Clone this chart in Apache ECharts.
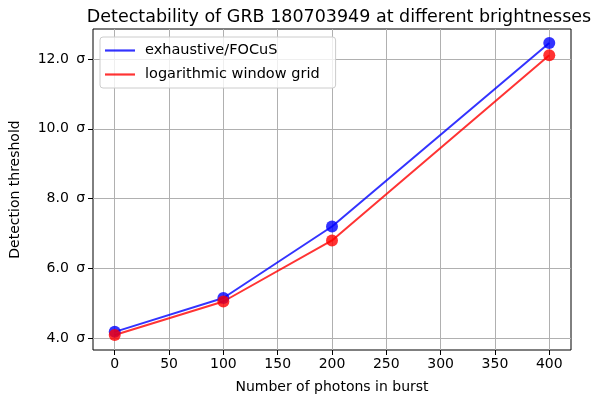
<!DOCTYPE html>
<html><head><meta charset="utf-8">
<script src="https://cdn.jsdelivr.net/npm/echarts@6/dist/echarts.min.js"></script>
<style>html,body{margin:0;padding:0;background:#fff}#c{width:607px;height:404px}</style>
</head><body><div id="c"></div>
<script>
const photons = [0, 100, 200, 400];
const exhaustive = [4.18, 5.15, 7.2, 12.46];
const logGrid = [4.09, 5.05, 6.8, 12.11];
const xTicks = [0, 50, 100, 150, 200, 250, 300, 350, 400];
const yTicks = [4, 6, 8, 10, 12];
const seriesNames = ['exhaustive/FOCuS', 'logarithmic window grid'];

const font = 'DejaVu Sans';
const chart = echarts.init(document.getElementById('c'), null, {renderer: 'canvas'});
const pts = (ys) => photons.map((x, i) => [x, ys[i]]);
function mk(name, ys, lineColor, dotColor) {
  return [{
    name: name, type: 'line', data: pts(ys), symbol: 'none',
    lineStyle: {color: lineColor, width: 2}, itemStyle: {color: lineColor},
    z: 3
  }, {
    name: name + '_pts', type: 'scatter', data: pts(ys), symbolSize: 12,
    itemStyle: {color: dotColor}, z: 4
  }];
}
chart.setOption({
  animation: false,
  title: {
    text: 'Detectability of GRB 180703949 at different brightnesses',
    left: 334, top: 3, textAlign: 'center',
    textStyle: {fontFamily: font, fontSize: 17.5, fontWeight: 'normal', color: '#000'}
  },
  legend: {
    data: seriesNames.map(n => ({name: n, icon: 'path://M0,0H30V2.2H0Z'})),
    orient: 'vertical', left: 100, top: 37,
    itemWidth: 30, itemHeight: 3, itemGap: 9,
    padding: [6, 16, 6, 5],
    backgroundColor: 'rgba(255,255,255,0.8)', borderColor: '#cccccc', borderWidth: 1, borderRadius: 3,
    textStyle: {fontFamily: font, fontSize: 14.5, color: '#000', padding: [0, 0, 0, 5]}
  },
  grid: {left: 92, right: 36, top: 29, bottom: 54, show: true, borderColor: '#000', borderWidth: 1, containLabel: false},
  xAxis: {
    type: 'value', min: -20, max: 420,
    name: 'Number of photons in burst', nameLocation: 'middle', nameGap: 30,
    nameTextStyle: {fontFamily: font, fontSize: 14, color: '#000'},
    axisLine: {show: false, onZero: false},
    axisTick: {show: true, length: 5, customValues: xTicks, lineStyle: {color: '#000'}},
    axisLabel: {customValues: xTicks, fontFamily: font, fontSize: 14, color: '#000', margin: 7},
    splitLine: {show: true, lineStyle: {color: '#b0b0b0', width: 1}}
  },
  yAxis: {
    type: 'value', min: 3.66, max: 12.86,
    name: 'Detection threshold', nameLocation: 'middle', nameGap: 71, nameRotate: 90,
    nameTextStyle: {fontFamily: font, fontSize: 14, color: '#000'},
    axisLine: {show: false, onZero: false},
    axisTick: {show: true, length: 5, customValues: yTicks, lineStyle: {color: '#000'}},
    axisLabel: {customValues: yTicks, fontFamily: font, fontSize: 14, color: '#000', margin: 8,
      formatter: v => v.toFixed(1) + '\u2009 σ'},
    splitLine: {show: true, lineStyle: {color: '#b0b0b0', width: 1}}
  },
  series: [
    ...mk(seriesNames[0], exhaustive, 'rgba(0,0,255,0.8)', '#0000ff'),
    ...mk(seriesNames[1], logGrid, 'rgba(255,0,0,0.8)', '#ff0000')
  ]
});
</script></body></html>
